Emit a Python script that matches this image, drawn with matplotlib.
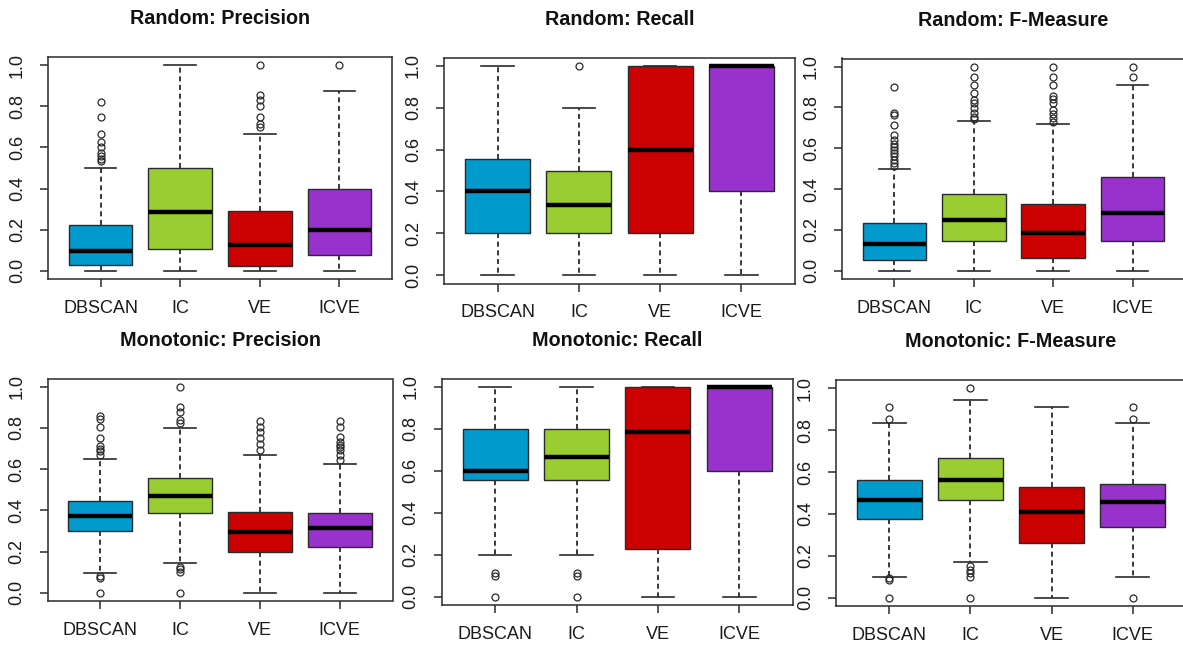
import matplotlib.pyplot as plt

plt.rcParams["font.family"] = ["Liberation Sans", "DejaVu Sans"]

methods = ["DBSCAN", "IC", "VE", "ICVE"]
colors = ["#009ACD", "#9ACD32", "#CD0000", "#9932CC"]

# --- Random: Precision
rp_q1 = [0.028, 0.105, 0.024, 0.078]
rp_med = [0.097, 0.285, 0.125, 0.200]
rp_q3 = [0.225, 0.500, 0.290, 0.400]
rp_lo = [0.0, 0.0, 0.0, 0.0]
rp_hi = [0.500, 1.000, 0.667, 0.875]
rp_out = [[0.533, 0.545, 0.556, 0.571, 0.6, 0.625, 0.667, 0.75, 0.82],
          [],
          [0.7, 0.714, 0.75, 0.8, 0.833, 0.857, 1.0],
          [1.0]]

# --- Random: Recall
rr_q1 = [0.2, 0.2, 0.2, 0.4]
rr_med = [0.4, 0.333, 0.6, 1.0]
rr_q3 = [0.556, 0.5, 1.0, 1.0]
rr_lo = [0.0, 0.0, 0.0, 0.0]
rr_hi = [1.0, 0.8, 1.0, 1.0]
rr_out = [[], [1.0], [], []]

# --- Random: F-Measure
rf_q1 = [0.054, 0.144, 0.065, 0.144]
rf_med = [0.130, 0.250, 0.186, 0.282]
rf_q3 = [0.235, 0.377, 0.328, 0.462]
rf_lo = [0.0, 0.0, 0.0, 0.0]
rf_hi = [0.500, 0.736, 0.719, 0.910]
rf_out = [[0.515, 0.53, 0.543, 0.56, 0.576, 0.592, 0.605, 0.622, 0.641, 0.666, 0.715, 0.763, 0.775, 0.902],
          [0.742, 0.755, 0.772, 0.796, 0.824, 0.837, 0.87, 0.91, 0.951, 1.0],
          [0.731, 0.747, 0.768, 0.788, 0.82, 0.84, 0.856, 0.91, 0.951, 1.0],
          [0.951, 1.0]]

# --- Monotonic: Precision
mp_q1 = [0.301, 0.385, 0.199, 0.223]
mp_med = [0.372, 0.471, 0.294, 0.316]
mp_q3 = [0.445, 0.555, 0.390, 0.385]
mp_lo = [0.097, 0.146, 0.0, 0.0]
mp_hi = [0.647, 0.801, 0.667, 0.626]
mp_out = [[0.0, 0.074, 0.081, 0.668, 0.688, 0.697, 0.712, 0.752, 0.803, 0.841, 0.858],
          [0.0, 0.099, 0.113, 0.126, 0.825, 0.838, 0.879, 0.903, 1.0],
          [0.693, 0.722, 0.752, 0.782, 0.806, 0.835],
          [0.644, 0.668, 0.693, 0.706, 0.717, 0.733, 0.757, 0.803, 0.835]]

# --- Monotonic: Recall
mr_q1 = [0.556, 0.556, 0.225, 0.6]
mr_med = [0.6, 0.667, 0.783, 1.0]
mr_q3 = [0.8, 0.8, 1.0, 1.0]
mr_lo = [0.2, 0.2, 0.0, 0.0]
mr_hi = [1.0, 1.0, 1.0, 1.0]
mr_out = [[0.0, 0.1, 0.111], [0.0, 0.1, 0.111], [], []]

# --- Monotonic: F-Measure
mf_q1 = [0.376, 0.467, 0.261, 0.336]
mf_med = [0.467, 0.562, 0.411, 0.457]
mf_q3 = [0.562, 0.666, 0.527, 0.541]
mf_lo = [0.1, 0.17, 0.0, 0.1]
mf_hi = [0.836, 0.944, 0.909, 0.836]
mf_out = [[0.0, 0.084, 0.092, 0.852, 0.909],
          [0.0, 0.1, 0.116, 0.132, 0.151, 1.0],
          [],
          [0.0, 0.852, 0.909]]

W, H = 1183, 646
fig = plt.figure(figsize=(W / 100, H / 100), dpi=100)

# panel frames in pixels: left, top, right, bottom
panels = [
    ("Random: Precision", (48, 57, 392, 279), rp_q1, rp_med, rp_q3, rp_lo, rp_hi, rp_out),
    ("Random: Recall", (444, 57.5, 795, 283.5), rr_q1, rr_med, rr_q3, rr_lo, rr_hi, rr_out),
    ("Random: F-Measure", (842, 58.5, 1185, 279), rf_q1, rf_med, rf_q3, rf_lo, rf_hi, rf_out),
    ("Monotonic: Precision", (47.5, 378.5, 392.5, 601), mp_q1, mp_med, mp_q3, mp_lo, mp_hi, mp_out),
    ("Monotonic: Recall", (441.5, 378.5, 793, 605), mr_q1, mr_med, mr_q3, mr_lo, mr_hi, mr_out),
    ("Monotonic: F-Measure", (836, 380, 1186, 606), mf_q1, mf_med, mf_q3, mf_lo, mf_hi, mf_out),
]

edge = "#2a2a2a"
for title, (l, t, r, b), q1, med, q3, lo, hi, out in panels:
    ax = fig.add_axes([l / W, 1 - b / H, (r - l) / W, (b - t) / H])
    stats = []
    for i in range(4):
        stats.append(dict(q1=q1[i], med=med[i], q3=q3[i],
                          whislo=lo[i], whishi=hi[i], fliers=out[i]))
    bp = ax.bxp(stats, positions=[1, 2, 3, 4], widths=0.8, capwidths=0.4,
                patch_artist=True,
                boxprops=dict(edgecolor=edge, linewidth=1.0),
                medianprops=dict(color="black", linewidth=3.2, solid_capstyle="butt"),
                whiskerprops=dict(color=edge, linewidth=1.3, linestyle=(0, (2.8, 2.0))),
                capprops=dict(color=edge, linewidth=1.2),
                flierprops=dict(marker="o", markersize=5, markerfacecolor="none",
                                markeredgecolor=edge, markeredgewidth=0.9))
    for patch, c in zip(bp["boxes"], colors):
        patch.set_facecolor(c)
    ax.set_xlim(0.34, 4.66)
    ax.set_ylim(-0.04, 1.04)
    ax.set_yticks([0.0, 0.2, 0.4, 0.6, 0.8, 1.0])
    ax.set_yticklabels(["0.0", "0.2", "0.4", "0.6", "0.8", "1.0"],
                       rotation=90, va="center")
    ax.set_xticks([1, 2, 3, 4])
    ax.set_xticklabels(methods)
    ax.tick_params(axis="both", length=6, width=1.1, color=edge,
                   labelsize=13, labelcolor="#1a1a1a")
    ax.tick_params(axis="y", pad=10)
    ax.tick_params(axis="x", pad=9)
    for s in ax.spines.values():
        s.set_color(edge)
        s.set_linewidth(1.1)
    ax.set_title(title, fontsize=14.2, fontweight="bold", pad=23.5, color="#111111")

fig.savefig("out.png", dpi=100)
